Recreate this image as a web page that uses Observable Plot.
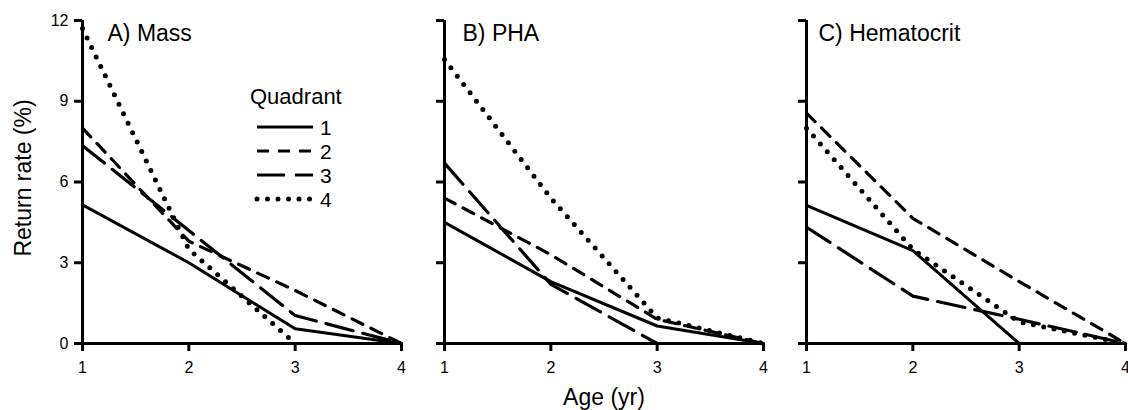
<!DOCTYPE html>
<html>
<head>
<meta charset="utf-8">
<script src="https://cdn.jsdelivr.net/npm/d3@7"></script>
<script src="https://cdn.jsdelivr.net/npm/@observablehq/plot@0.6"></script>
<style>
  html, body { margin: 0; padding: 0; background: #fff; }
  #wrap { position: relative; width: 1128px; height: 410px; font-family: "Liberation Sans", Arial, Helvetica, sans-serif; }
  #wrap svg.overlay { position: absolute; left: 0; top: 0; pointer-events: none; font-family: "Liberation Sans", Arial, Helvetica, sans-serif; }
</style>
</head>
<body>
<div id="wrap"></div>
<script>
// ---- Data ----
const ages = [1, 2, 3, 4];
const panels = ["A) Mass", "B) PHA", "C) Hematocrit"];
const quadrants = ["1", "2", "3", "4"];
const yTicks = [0, 3, 6, 9, 12];
const xTicks = [1, 2, 3, 4];
const xTitle = "Age (yr)";
const yTitle = "Return rate (%)";
const legendTitle = "Quadrant";

// Return rate (%) by age 1..4 (null = line not drawn)
const massQ1 = [5.15, 3.0, 0.55, 0];
const massQ2 = [8.0, 3.8, 1.97, 0];
const massQ3 = [7.35, 4.2, 1.04, 0];
const massQ4 = [11.7, 3.5, 0, null];

const phaQ1 = [4.5, 2.3, 0.65, 0];
const phaQ2 = [5.4, 3.3, 0.9, 0];
const phaQ3 = [6.7, 2.2, 0, null];
const phaQ4 = [10.55, 5.4, 0.95, 0];

const hctQ1 = [5.13, 3.45, 0, null];
const hctQ2 = [8.56, 4.65, 2.3, 0];
const hctQ3 = [4.32, 1.76, 0.9, 0];
const hctQ4 = [8.0, 3.5, 0.8, 0];

const series = {
  "A) Mass": [massQ1, massQ2, massQ3, massQ4],
  "B) PHA": [phaQ1, phaQ2, phaQ3, phaQ4],
  "C) Hematocrit": [hctQ1, hctQ2, hctQ3, hctQ4]
};

const rows = [];
panels.forEach(p => {
  series[p].forEach((vals, qi) => {
    vals.forEach((v, ai) => {
      if (v != null) rows.push({panel: p, quadrant: quadrants[qi], age: ages[ai], rate: v});
    });
  });
});
const yTickRows = yTicks.map(t => ({t, panel: panels[0]}));

// ---- Styles ----
const lineStyles = {
  "1": {strokeWidth: 3},
  "2": {strokeWidth: 3.2, strokeDasharray: "12,9"},
  "3": {strokeWidth: 3.2, strokeDasharray: "28,10"},
  "4": {strokeWidth: 5, strokeDasharray: "0,10.5", strokeLinecap: "round"}
};
const titleDx = [25, 18, 12];

const chart = Plot.plot({
  width: 1128,
  height: 410,
  marginLeft: 82,
  marginRight: 3,
  marginTop: 20,
  marginBottom: 67,
  style: {fontFamily: "'Liberation Sans', Arial, Helvetica, sans-serif", fontSize: "16px", color: "black", background: "white", overflow: "visible"},
  fx: {domain: panels, paddingInner: 0.1188, paddingOuter: 0, round: false, axis: null, label: null},
  x: {domain: [1, 4]},
  y: {domain: [0, 12]},
  marks: [
    Plot.axisY(yTicks, {tickSize: 8, strokeWidth: 3, tickFormat: () => "", facetAnchor: null, label: null}),
    Plot.axisX(xTicks, {tickSize: 8, strokeWidth: 3, tickFormat: () => "", label: null}),
    // tick labels
    Plot.text(yTickRows, {y: "t", fx: "panel", text: d => String(d.t), frameAnchor: "left", textAnchor: "end", dx: -14, fontSize: 16}),
    Plot.text(xTicks, {x: d => d, text: d => String(d), frameAnchor: "bottom", lineAnchor: "top", dy: 18, fontSize: 16}),
    Plot.ruleX([1], {y1: 0, y2: 12, strokeWidth: 3}),
    Plot.ruleY([0], {x1: 1, x2: 4, strokeWidth: 3}),
    ...quadrants.map(q => Plot.line(rows.filter(d => d.quadrant === q), {
      x: "age", y: "rate", fx: "panel", stroke: "black", ...lineStyles[q]
    })),
    ...panels.map((p, i) => Plot.text([p], {
      fx: d => d, text: d => d, frameAnchor: "top-left", dx: titleDx[i], dy: 4, fontSize: 23
    }))
  ]
});
document.getElementById("wrap").appendChild(chart);

// ---- Axis titles and legend (overlay) ----
const ov = d3.select("#wrap").append("svg").attr("class", "overlay").attr("width", 1128).attr("height", 410);
ov.append("text").attr("transform", "translate(31,178) rotate(-90)").attr("text-anchor", "middle")
  .style("font-size", "23px").attr("fill", "black").text(yTitle);
ov.append("text").attr("x", 604).attr("y", 405).attr("text-anchor", "middle")
  .style("font-size", "23px").attr("fill", "black").text(xTitle);

const lg = ov.append("g");
lg.append("text").attr("x", 250).attr("y", 104).style("font-size", "22px").attr("fill", "black").text(legendTitle);
quadrants.forEach((q, i) => {
  const y = 127 + 24 * i;
  const s = lineStyles[q];
  lg.append("line").attr("x1", 257).attr("x2", 313).attr("y1", y).attr("y2", y)
    .attr("stroke", "black").attr("stroke-width", s.strokeWidth)
    .attr("stroke-dasharray", s.strokeDasharray || null)
    .attr("stroke-linecap", s.strokeLinecap || null);
  lg.append("text").attr("x", 320).attr("y", y).attr("dy", "0.36em").style("font-size", "21px")
    .attr("fill", "black").text(q);
});
</script>
</body>
</html>
